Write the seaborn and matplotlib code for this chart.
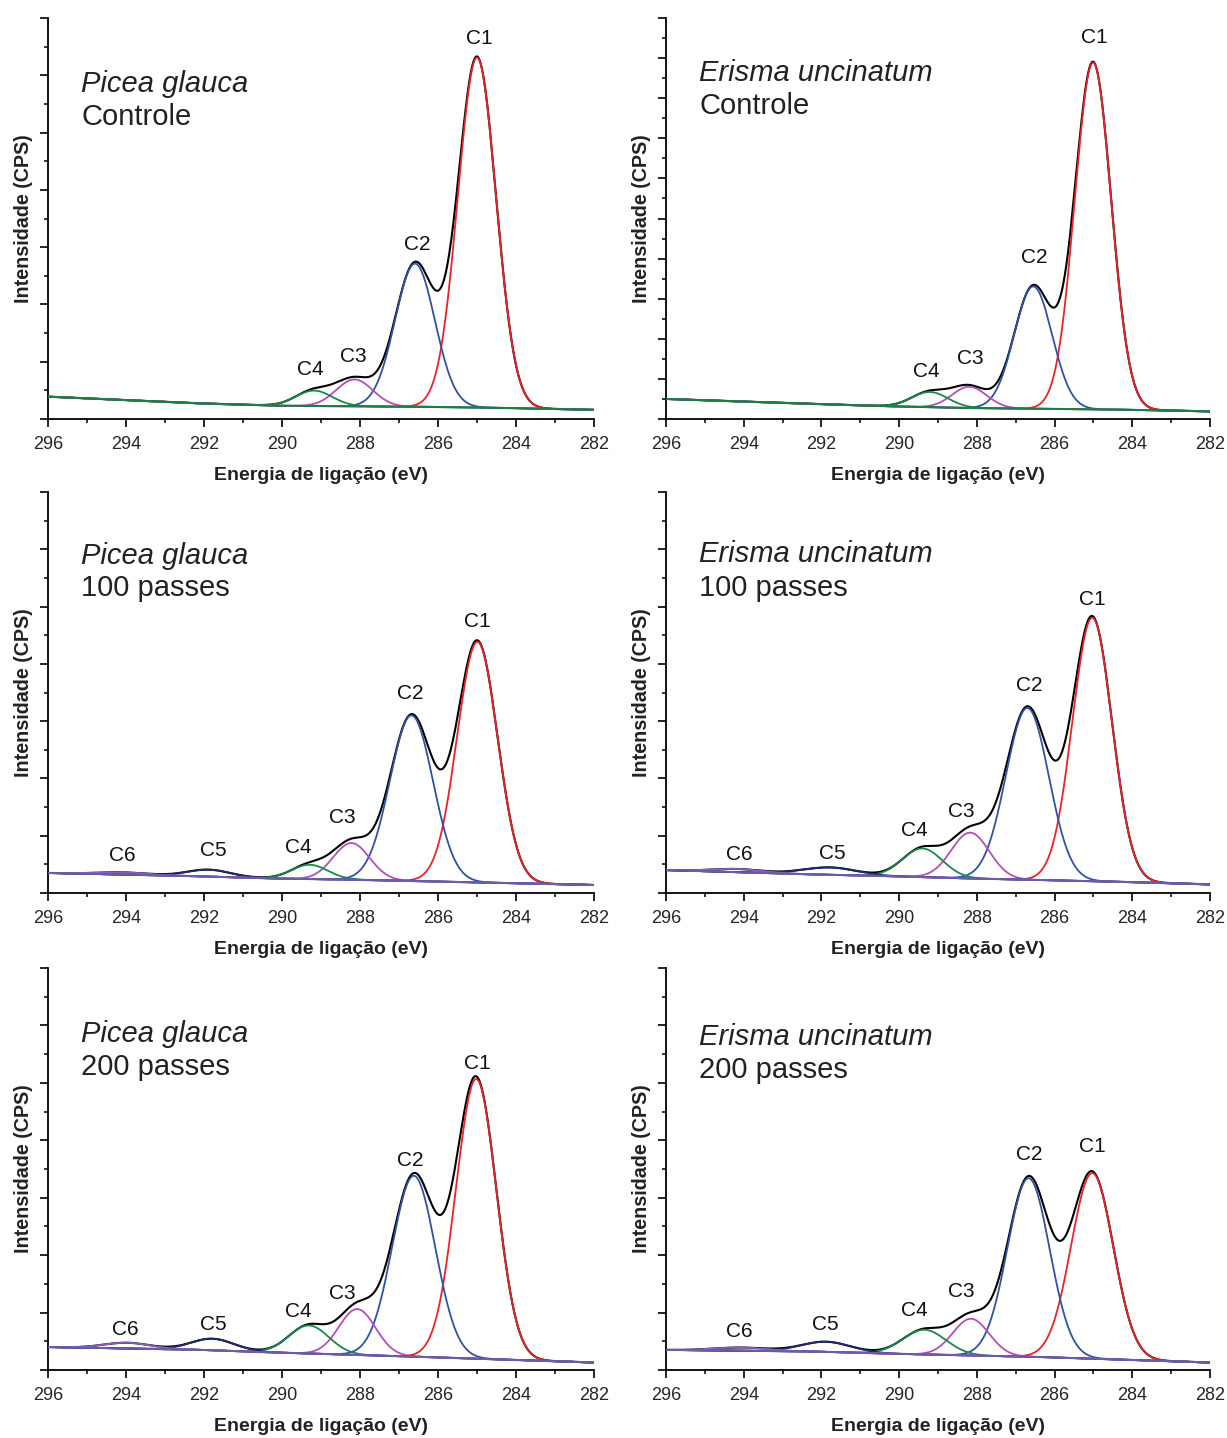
import numpy as np
import pandas as pd
import matplotlib
matplotlib.use("Agg")
import matplotlib.pyplot as plt
from matplotlib.ticker import MultipleLocator, NullFormatter
import seaborn as sns

sns.set_theme(style="ticks")
plt.rcParams["font.family"] = ["Liberation Sans", "DejaVu Sans"]

# ---------------- data ----------------
# panel order: row-major (left: Picea glauca, right: Erisma uncinatum)
species = ["Picea glauca", "Erisma uncinatum",
           "Picea glauca", "Erisma uncinatum",
           "Picea glauca", "Erisma uncinatum"]
treatment = ["Controle", "Controle", "100 passes", "100 passes",
             "200 passes", "200 passes"]
y_top = [7, 10, 7, 7, 7, 7]          # axis top in tick units
text_y = [(5.85, 5.28), (8.63, 7.80), (5.88, 5.32),
          (5.92, 5.33), (5.85, 5.28), (5.79, 5.22)]
text_x = 295.15

bg_x = [296, 292, 290, 288, 286, 284, 282]
bg_1 = [0.39, 0.27, 0.23, 0.22, 0.21, 0.19, 0.16]
bg_2 = [0.50, 0.37, 0.31, 0.27, 0.25, 0.23, 0.19]
bg_3 = [0.35, 0.29, 0.25, 0.23, 0.20, 0.17, 0.14]
bg_4 = [0.40, 0.32, 0.29, 0.25, 0.22, 0.19, 0.15]
bg_5 = [0.40, 0.35, 0.30, 0.26, 0.22, 0.175, 0.13]
bg_6 = [0.35, 0.32, 0.28, 0.25, 0.22, 0.175, 0.13]
backgrounds = [bg_1, bg_2, bg_3, bg_4, bg_5, bg_6]

peak_names = ["C1", "C2", "C3", "C4", "C5", "C6"]
# centers (eV)
center_1 = [285.00, 286.59, 288.14, 289.18]
center_2 = [285.01, 286.55, 288.19, 289.21]
center_3 = [284.99, 286.68, 288.22, 289.29, 291.88, 294.07]
center_4 = [285.03, 286.70, 288.17, 289.40, 291.78, 294.16]
center_5 = [285.02, 286.62, 288.07, 289.31, 291.78, 293.97]
center_6 = [285.03, 286.67, 288.15, 289.35, 291.88, 294.06]
# heights above background (tick units)
height_1 = [6.11, 2.50, 0.47, 0.27]
height_2 = [8.65, 3.05, 0.53, 0.38]
height_3 = [4.20, 2.89, 0.64, 0.25, 0.12, 0.04]
height_4 = [4.60, 3.00, 0.80, 0.50, 0.13, 0.056]
height_5 = [4.87, 3.15, 0.80, 0.49, 0.20, 0.10]
height_6 = [3.23, 3.11, 0.64, 0.43, 0.175, 0.056]
# FWHM (eV)
fwhm_1 = [1.15, 1.20, 1.10, 1.10]
fwhm_2 = [1.10, 1.15, 1.05, 1.10]
fwhm_3 = [1.22, 1.30, 1.10, 1.10, 1.30, 1.50]
fwhm_4 = [1.20, 1.30, 1.15, 1.20, 1.60, 1.50]
fwhm_5 = [1.22, 1.30, 1.10, 1.20, 1.30, 1.40]
fwhm_6 = [1.28, 1.28, 1.10, 1.30, 1.50, 1.60]
centers = [center_1, center_2, center_3, center_4, center_5, center_6]
heights = [height_1, height_2, height_3, height_4, height_5, height_6]
fwhms = [fwhm_1, fwhm_2, fwhm_3, fwhm_4, fwhm_5, fwhm_6]

# peak label positions (x eV, y tick units)
lab_1 = [(284.93, 6.65), (286.53, 3.04), (288.16, 1.09), (289.28, 0.87)]
lab_2 = [(284.99, 9.52), (286.53, 4.02), (288.17, 1.51), (289.31, 1.18)]
lab_3 = [(284.99, 4.74), (286.70, 3.49), (288.46, 1.32), (289.59, 0.80),
         (291.75, 0.735), (294.09, 0.66)]
lab_4 = [(285.03, 5.12), (286.64, 3.63), (288.40, 1.42), (289.61, 1.085),
         (291.73, 0.69), (294.11, 0.67)]
lab_5 = [(284.99, 5.34), (286.70, 3.65), (288.46, 1.34), (289.59, 1.02),
         (291.75, 0.79), (294.02, 0.70)]
lab_6 = [(285.03, 3.90), (286.64, 3.76), (288.40, 1.36), (289.61, 1.04),
         (291.90, 0.79), (294.11, 0.67)]
labels = [lab_1, lab_2, lab_3, lab_4, lab_5, lab_6]

peak_colors = ["#e8242b", "#2f52a3", "#b44fb4", "#17894a", "#1f2a6e", "#8763b8"]
bg_colors = ["#1d7d46", "#1d7d46", "#6b5bab", "#6b5bab", "#6b5bab", "#6b5bab"]

# ---------------- layout ----------------
W, H = 1227, 1438
fig = plt.figure(figsize=(W / 100, H / 100), dpi=100)
col_px = [(48, 546), (666, 544)]
row_px = [(18, 419), (492, 893), (968, 1370)]

x = np.linspace(282, 296, 1401)

for i in range(6):
    r, c = divmod(i, 2)
    l, w = col_px[c]
    t, b = row_px[r]
    ax = fig.add_axes([l / W, 1 - b / H, w / W, (b - t) / H])

    bg = np.interp(x, bg_x[::-1], backgrounds[i][::-1])
    comps = []
    for cen, h, fw in zip(centers[i], heights[i], fwhms[i]):
        comps.append(h * np.exp(-4 * np.log(2) * (x - cen) ** 2 / fw ** 2))
    total = bg + np.sum(comps, axis=0)

    df = pd.DataFrame({"x": x, "y": total})
    sns.lineplot(data=df, x="x", y="y", ax=ax, color="black", linewidth=1.5,
                 zorder=2, estimator=None)
    for k, comp in enumerate(comps):
        sns.lineplot(x=x, y=bg + comp, ax=ax, color=peak_colors[k],
                     linewidth=1.3, zorder=3, estimator=None)
    sns.lineplot(x=x, y=bg, ax=ax, color=bg_colors[i], linewidth=1.5,
                 zorder=4, estimator=None)

    for k, (lx, ly) in enumerate(labels[i]):
        ax.text(lx, ly, peak_names[k], ha="center", va="center",
                fontsize=15, color="#111111")

    ax.text(text_x, text_y[i][0], species[i], ha="left", va="center",
            fontsize=21, style="italic", color="#222222")
    ax.text(text_x, text_y[i][1], treatment[i], ha="left", va="center",
            fontsize=21, color="#222222")

    ax.set_xlim(296, 282)
    ax.set_ylim(0, y_top[i])
    ax.xaxis.set_major_locator(MultipleLocator(2))
    ax.xaxis.set_minor_locator(MultipleLocator(1))
    ax.yaxis.set_major_locator(MultipleLocator(1))
    ax.yaxis.set_minor_locator(MultipleLocator(0.5))
    ax.yaxis.set_major_formatter(NullFormatter())
    ax.set_xticks([296, 294, 292, 290, 288, 286, 284, 282])
    ax.set_xticklabels(["296", "294", "292", "290", "288", "286", "284", "282"])
    ax.tick_params(axis="both", which="major", direction="out", length=6,
                   width=1.2, color="black", labelsize=13, pad=6)
    ax.tick_params(axis="both", which="minor", direction="out", length=3.2,
                   width=1.1, color="black")
    for s in ["top", "right"]:
        ax.spines[s].set_visible(False)
    for s in ["left", "bottom"]:
        ax.spines[s].set_linewidth(1.3)
        ax.spines[s].set_color("black")
    ax.set_xlabel("Energia de ligação (eV)", fontsize=14, fontweight="bold",
                  labelpad=10.5, color="#222222")
    ax.set_ylabel("Intensidade (CPS)", fontsize=14.2, fontweight="bold",
                  labelpad=-1.5, color="#222222")
    ax.set_facecolor("white")
    ax.patch.set_alpha(0)

fig.patch.set_facecolor("white")
fig.savefig("out.png", dpi=100)
